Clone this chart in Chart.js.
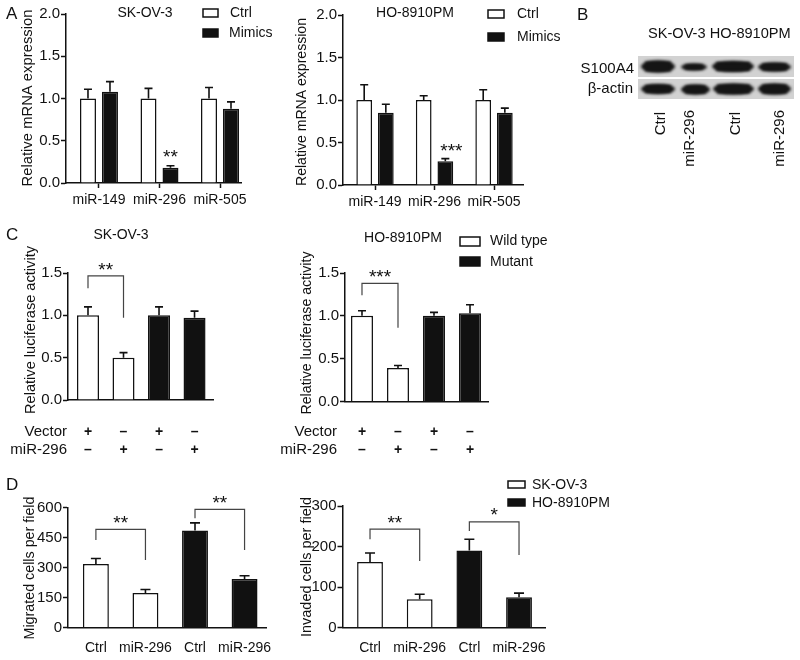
<!DOCTYPE html>
<html>
<head>
<meta charset="utf-8">
<script src="https://cdn.jsdelivr.net/npm/chart.js@4.4.1/dist/chart.umd.min.js"></script>
<style>
  body { margin: 0; background: #fff; }
  #fig { position: relative; width: 800px; height: 660px; overflow: hidden; font-family: "Liberation Sans", Arial, sans-serif; color: #111; }
  #fig canvas { position: absolute; }
  .lbl { position: absolute; white-space: nowrap; font-size: 15px; line-height: 16px; }
  .vlbl { position: absolute; width: 16px; font-size: 15px; line-height: 16px; white-space: nowrap; writing-mode: vertical-rl; transform: rotate(180deg); }
</style>
</head>
<body>
<div id="fig">
  <canvas id="mrnaSk"></canvas>
  <canvas id="mrnaHo"></canvas>
  <canvas id="lucSk"></canvas>
  <canvas id="lucHo"></canvas>
  <canvas id="migrated"></canvas>
  <canvas id="invaded"></canvas>
  <canvas id="blot" width="156" height="43" style="left:638px;top:56px"></canvas>
  <div class="lbl" style="left:577px;top:6px;font-size:17px;line-height:18px">B</div>
  <div class="lbl" style="left:648px;top:25px;font-size:14.6px">SK-OV-3 HO-8910PM</div>
  <div class="lbl" style="right:166px;top:60px">S100A4</div>
  <div class="lbl" style="right:167px;top:80px">β-actin</div>
  <div class="vlbl" style="left:652px;top:112px">Ctrl</div>
  <div class="vlbl" style="left:681px;top:110px">miR-296</div>
  <div class="vlbl" style="left:727px;top:112px">Ctrl</div>
  <div class="vlbl" style="left:771px;top:110px">miR-296</div>
</div>
<script>
// A: relative mRNA expression
const mirCats = ['miR-149', 'miR-296', 'miR-505'];
const skCtrl = [1.0, 1.0, 1.0];
const skCtrlErr = [0.11, 0.12, 0.13];
const skMimics = [1.08, 0.18, 0.88];
const skMimicsErr = [0.12, 0.025, 0.08];
const hoCtrl = [1.0, 1.0, 1.0];
const hoCtrlErr = [0.18, 0.05, 0.12];
const hoMimics = [0.85, 0.28, 0.85];
const hoMimicsErr = [0.10, 0.03, 0.055];

// C: luciferase reporter
const lucCats = ['1', '2', '3', '4'];
const lucVector = ['+', '–', '+', '–'];
const lucMir = ['–', '+', '–', '+'];
const skWild = [1.0, 0.50];
const skWildErr = [0.10, 0.06];
const skMutant = [1.0, 0.97];
const skMutantErr = [0.10, 0.08];
const hoWild = [1.0, 0.39];
const hoWildErr = [0.06, 0.03];
const hoMutant = [1.0, 1.03];
const hoMutantErr = [0.04, 0.10];

// D: migration / invasion
const cellCats = ['Ctrl', 'miR-296', 'Ctrl', 'miR-296'];
const migSk = [318, 173];
const migSkErr = [27, 17];
const migHo = [485, 242];
const migHoErr = [38, 17];
const invSk = [162, 70];
const invSkErr = [22, 12];
const invHo = [190, 75];
const invHoErr = [28, 10];

const FONT = '"Liberation Sans", Arial, Helvetica, sans-serif';
Chart.defaults.font.family = FONT;
Chart.defaults.font.size = 14;
Chart.defaults.color = '#111';

const extraCfg = {};

function putText(ctx, t, ox, oy) {
  ctx.save();
  ctx.font = (t.bold ? 'bold ' : '') + (t.size || 14) + 'px ' + FONT;
  ctx.fillStyle = '#111';
  ctx.textAlign = t.align || 'left';
  ctx.textBaseline = 'middle';
  ctx.translate(t.x - ox, t.y - oy);
  if (t.rot) ctx.rotate(-Math.PI / 2);
  if (t.w) ctx.scale(t.w / ctx.measureText(t.text).width, 1);
  ctx.fillText(t.text, 0, 0);
  ctx.restore();
}

function putStars(ctx, text, x, y) {
  // y is the visual centre of the asterisks
  ctx.save();
  ctx.font = '19px ' + FONT;
  ctx.fillStyle = '#111';
  ctx.textAlign = 'center';
  ctx.textBaseline = 'alphabetic';
  ctx.fillText(text, x, y + 0.56 * 19);
  ctx.restore();
}

const extras = {
  id: 'extras',
  afterDatasetsDraw(chart) {
    const o = extraCfg[chart.canvas.id];
    const ctx = chart.ctx, xs = chart.scales.x, ys = chart.scales.y;
    const ox = o.ox, oy = o.oy;
    ctx.save();
    // error bars, upper half only
    ctx.strokeStyle = '#111';
    ctx.lineWidth = 1.6;
    chart.data.datasets.forEach((ds, di) => {
      const meta = chart.getDatasetMeta(di);
      ds.errors.forEach((e, i) => {
        const bar = meta.data[i];
        const top = ys.getPixelForValue(ds.data[i].y + e);
        ctx.beginPath();
        ctx.moveTo(bar.x, bar.y);
        ctx.lineTo(bar.x, top);
        ctx.moveTo(bar.x - o.cap / 2, top);
        ctx.lineTo(bar.x + o.cap / 2, top);
        ctx.stroke();
      });
    });
    // stars over single bars
    (o.barStars || []).forEach(s => {
      const ds = chart.data.datasets[s.ds];
      const bar = chart.getDatasetMeta(s.ds).data[s.i];
      const top = ys.getPixelForValue(ds.data[s.i].y + ds.errors[s.i]);
      putStars(ctx, s.text, bar.x + (s.dx || 0), top - s.dy);
    });
    // significance brackets
    ctx.strokeStyle = '#444';
    ctx.lineWidth = 1.2;
    (o.brackets || []).forEach(b => {
      const x0 = xs.getPixelForValue(b.from), x1 = xs.getPixelForValue(b.to);
      const yt = ys.getPixelForValue(b.top);
      ctx.beginPath();
      ctx.moveTo(x0, ys.getPixelForValue(b.left));
      ctx.lineTo(x0, yt);
      ctx.lineTo(x1, yt);
      ctx.lineTo(x1, ys.getPixelForValue(b.right));
      ctx.stroke();
      putStars(ctx, b.text, (x0 + x1) / 2, yt - 11);
    });
    // +/- rows under the axis
    (o.rows || []).forEach(r => {
      putText(ctx, { text: r.label, x: r.lx, y: r.y, align: 'right', size: 15 }, ox, oy);
      r.signs.forEach((s, i) => {
        putText(ctx, { text: s, x: xs.getPixelForValue(i) + ox, y: r.y, align: 'center', size: 14, bold: true }, ox, oy);
      });
    });
    // legend boxes
    (o.legend || []).forEach(l => {
      ctx.fillStyle = l.fill;
      ctx.fillRect(l.x - ox, l.y - oy, l.w, l.h);
      ctx.strokeStyle = '#111';
      ctx.lineWidth = 1.5;
      ctx.strokeRect(l.x - ox, l.y - oy, l.w, l.h);
      putText(ctx, { text: l.text, x: l.tx, y: l.ty, size: 14 }, ox, oy);
    });
    (o.texts || []).forEach(t => putText(ctx, t, ox, oy));
    ctx.restore();
  }
};

function barSet(label, vals, errs, start, fill) {
  return {
    label: label,
    data: vals.map((v, i) => ({ x: start + i, y: v })),
    errors: errs,
    backgroundColor: fill,
    borderColor: '#111',
    borderWidth: 1.5
  };
}

function makeChart(id, box, area, xr, cats, yr, datasets, bars, xTicks, extra) {
  const cv = document.getElementById(id);
  cv.width = box.w;
  cv.height = box.h;
  cv.style.left = box.x + 'px';
  cv.style.top = box.y + 'px';
  extraCfg[id] = Object.assign({ ox: box.x, oy: box.y }, extra);
  return new Chart(cv, {
    type: 'bar',
    data: { datasets: datasets },
    options: {
      responsive: false,
      animation: false,
      grouped: bars.grouped,
      categoryPercentage: bars.cat,
      barPercentage: bars.bar,
      layout: { padding: { left: 0, top: area.top - box.y, right: box.x + box.w - area.right, bottom: 0 } },
      plugins: { legend: { display: false }, tooltip: { enabled: false } },
      scales: {
        x: {
          type: 'linear',
          offset: false,
          min: xr[0],
          max: xr[1],
          afterBuildTicks: s => { s.ticks = cats.map((c, i) => ({ value: i })); },
          afterFit: s => { s.height = box.y + box.h - area.bottom; },
          ticks: {
            display: xTicks.show,
            padding: xTicks.pad,
            maxRotation: 0,
            autoSkip: false,
            font: { size: 14 },
            callback: v => cats[v]
          },
          grid: { offset: false, drawOnChartArea: false, drawTicks: xTicks.marks, tickLength: 5, tickWidth: 1.5, tickColor: '#111' },
          border: { display: true, color: '#111', width: 1.5 }
        },
        y: {
          min: yr.min,
          max: yr.max,
          afterFit: s => { s.width = area.left - box.x; },
          ticks: { stepSize: yr.step, padding: 1, font: { size: 15 }, callback: v => yr.fmt(v) },
          grid: { drawOnChartArea: false, tickLength: 5, tickWidth: 1.5, tickColor: '#111' },
          border: { display: true, color: '#111', width: 1.5 }
        }
      }
    },
    plugins: [extras]
  });
}

const oneDec = v => v.toFixed(1);
const whole = v => String(v);

// ---- A ----
makeChart('mrnaSk', { x: 0, y: 0, w: 285, h: 215 }, { left: 66, right: 241, top: 14, bottom: 183 },
  [-0.545, 2.347], mirCats, { min: 0, max: 2, step: 0.5, fmt: oneDec },
  [barSet('Ctrl', skCtrl, skCtrlErr, 0, '#fff'), barSet('Mimics', skMimics, skMimicsErr, 0, '#111')],
  { grouped: true, cat: 0.727, bar: 0.727 }, { show: true, pad: 4, marks: true },
  {
    cap: 8,
    barStars: [{ ds: 1, i: 1, text: '**', dy: 13 }],
    legend: [
      { x: 203, y: 9, w: 15, h: 8, fill: '#fff', text: 'Ctrl', tx: 230, ty: 13 },
      { x: 203, y: 29, w: 15, h: 8, fill: '#111', text: 'Mimics', tx: 229, ty: 33 }
    ],
    texts: [
      { text: 'A', x: 6, y: 14, size: 17 },
      { text: 'SK-OV-3', x: 145, y: 13, align: 'center', size: 14 },
      { text: 'Relative mRNA expression', x: 28, y: 98, rot: true, align: 'center', size: 15, w: 177 }
    ]
  });

makeChart('mrnaHo', { x: 284, y: 0, w: 276, h: 215 }, { left: 343, right: 523, top: 15, bottom: 185 },
  [-0.538, 2.487], mirCats, { min: 0, max: 2, step: 0.5, fmt: oneDec },
  [barSet('Ctrl', hoCtrl, hoCtrlErr, 0, '#fff'), barSet('Mimics', hoMimics, hoMimicsErr, 0, '#111')],
  { grouped: true, cat: 0.727, bar: 0.727 }, { show: true, pad: 4, marks: true },
  {
    cap: 8,
    barStars: [{ ds: 1, i: 1, text: '***', dy: 12, dx: 6 }],
    legend: [
      { x: 488, y: 10, w: 16, h: 8, fill: '#fff', text: 'Ctrl', tx: 517, ty: 14 },
      { x: 488, y: 33, w: 16, h: 8, fill: '#111', text: 'Mimics', tx: 517, ty: 37 }
    ],
    texts: [
      { text: 'HO-8910PM', x: 415, y: 13, align: 'center', size: 14 },
      { text: 'Relative mRNA expression', x: 302, y: 102, rot: true, align: 'center', size: 15, w: 168 }
    ]
  });

// ---- C ----
makeChart('lucSk', { x: 0, y: 220, w: 270, h: 240 }, { left: 68, right: 213, top: 273, bottom: 400 },
  [-0.563, 3.52], lucCats, { min: 0, max: 1.5, step: 0.5, fmt: oneDec },
  [barSet('Wild type', skWild, skWildErr, 0, '#fff'), barSet('Mutant', skMutant, skMutantErr, 2, '#111')],
  { grouped: false, cat: 1, bar: 0.62 }, { show: false, pad: 0, marks: false },
  {
    cap: 8,
    brackets: [{ from: 0, to: 1, top: 1.465, left: 1.32, right: 0.97, text: '**' }],
    rows: [
      { label: 'Vector', signs: lucVector, y: 432, lx: 67 },
      { label: 'miR-296', signs: lucMir, y: 450, lx: 67 }
    ],
    texts: [
      { text: 'C', x: 6, y: 235, size: 17 },
      { text: 'SK-OV-3', x: 121, y: 235, align: 'center', size: 14 },
      { text: 'Relative luciferase activity', x: 31, y: 330, rot: true, align: 'center', size: 15, w: 168 }
    ]
  });

makeChart('lucHo', { x: 272, y: 220, w: 300, h: 240 }, { left: 345, right: 488, top: 273, bottom: 401.5 },
  [-0.472, 3.5], lucCats, { min: 0, max: 1.5, step: 0.5, fmt: oneDec },
  [barSet('Wild type', hoWild, hoWildErr, 0, '#fff'), barSet('Mutant', hoMutant, hoMutantErr, 2, '#111')],
  { grouped: false, cat: 1, bar: 0.61 }, { show: false, pad: 0, marks: false },
  {
    cap: 8,
    brackets: [{ from: 0, to: 1, top: 1.38, left: 1.24, right: 0.86, text: '***' }],
    rows: [
      { label: 'Vector', signs: lucVector, y: 432, lx: 337 },
      { label: 'miR-296', signs: lucMir, y: 450, lx: 337 }
    ],
    legend: [
      { x: 460, y: 237, w: 20, h: 9, fill: '#fff', text: 'Wild type', tx: 490, ty: 241 },
      { x: 460, y: 257, w: 20, h: 9, fill: '#111', text: 'Mutant', tx: 490, ty: 262 }
    ],
    texts: [
      { text: 'HO-8910PM', x: 403, y: 238, align: 'center', size: 14 },
      { text: 'Relative luciferase activity', x: 307, y: 333, rot: true, align: 'center', size: 15, w: 163 }
    ]
  });

// ---- D ----
makeChart('migrated', { x: 0, y: 470, w: 285, h: 190 }, { left: 68, right: 267, top: 507.5, bottom: 627.5 },
  [-0.563, 3.443], cellCats, { min: 0, max: 600, step: 150, fmt: whole },
  [barSet('SK-OV-3', migSk, migSkErr, 0, '#fff'), barSet('HO-8910PM', migHo, migHoErr, 2, '#111')],
  { grouped: false, cat: 1, bar: 0.523 }, { show: true, pad: 12, marks: false },
  {
    cap: 10,
    brackets: [
      { from: 0, to: 1, top: 491, left: 437, right: 337, text: '**' },
      { from: 2, to: 3, top: 591, left: 546, right: 387, text: '**' }
    ],
    texts: [
      { text: 'D', x: 6, y: 485, size: 17 },
      { text: 'Migrated cells per field', x: 30, y: 568, rot: true, align: 'center', size: 15, w: 143 }
    ]
  });

makeChart('invaded', { x: 287, y: 470, w: 335, h: 190 }, { left: 342.5, right: 545, top: 506, bottom: 627.5 },
  [-0.554, 3.523], cellCats, { min: 0, max: 300, step: 100, fmt: whole },
  [barSet('SK-OV-3', invSk, invSkErr, 0, '#fff'), barSet('HO-8910PM', invHo, invHoErr, 2, '#111')],
  { grouped: false, cat: 1, bar: 0.52 }, { show: true, pad: 12, marks: false },
  {
    cap: 10,
    brackets: [
      { from: 0, to: 1, top: 243, left: 218, right: 164, text: '**' },
      { from: 2, to: 3, top: 261, left: 238, right: 179, text: '*' }
    ],
    legend: [
      { x: 508, y: 481, w: 17, h: 7, fill: '#fff', text: 'SK-OV-3', tx: 532, ty: 485 },
      { x: 508, y: 499, w: 17, h: 7, fill: '#111', text: 'HO-8910PM', tx: 532, ty: 503 }
    ],
    texts: [
      { text: 'Invaded cells per field', x: 306.5, y: 567, rot: true, align: 'center', size: 15, w: 140 }
    ]
  });

// ---- B: western blot strips (illustration, not data) ----
const bctx = document.getElementById('blot').getContext('2d');
bctx.fillStyle = '#d2d2d2';
bctx.fillRect(0, 0, 156, 21);
bctx.fillRect(0, 23, 156, 20);
bctx.filter = 'blur(1.4px)';
bctx.fillStyle = '#151515';
// [x0, x1, centre y, height] per band
[[3, 37, 10.5, 12], [43, 69, 11, 7], [74, 116, 10.5, 11], [120, 153, 11, 9],
 [3, 37, 33, 10], [43, 72, 33.5, 10], [75, 116, 33, 11], [120, 153, 33, 11]].forEach(b => {
  bctx.beginPath();
  bctx.ellipse((b[0] + b[1]) / 2, b[2], (b[1] - b[0]) / 2, b[3] / 2, 0, 0, Math.PI * 2);
  bctx.fill();
  bctx.fillRect(b[0] + 4, b[2] - b[3] / 2 + 1, b[1] - b[0] - 8, b[3] - 2);
});
</script>
</body>
</html>
